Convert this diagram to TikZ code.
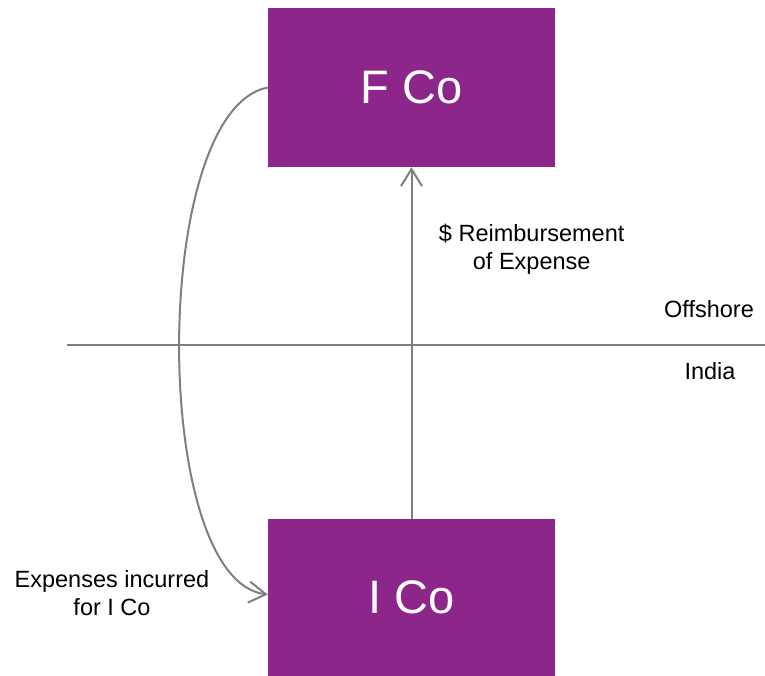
\documentclass[tikz,border=0pt]{standalone}
\usepackage{fontspec}
\setmainfont{Liberation Sans}
\usetikzlibrary{arrows.meta}
\definecolor{boxpurple}{HTML}{8D268B}
\definecolor{linegray}{HTML}{7F7F7F}
\begin{document}
\begin{tikzpicture}[x=1pt,y=-1pt,
  cobox/.style={fill=boxpurple,draw=none,minimum width=287pt,inner sep=0pt,text=white,font=\fontsize{47}{50}\selectfont},
  lbl/.style={align=center,inner sep=0pt,font=\fontsize{23.5}{28}\selectfont},
  conn/.style={draw=linegray,line width=2pt,-{Straight Barb[length=17pt,width=21pt]}}]
\useasboundingbox (0,0) rectangle (765,676);
\node[cobox,minimum height=159pt] (F) at (411.5,87.5) {F Co};
\node[cobox,minimum height=157pt] (I) at (411.5,597.5) {I Co};
\coordinate (hl) at (67,345);
\coordinate (hr) at (765,345);
\draw[draw=linegray,line width=1.5pt] (hl) -- (hr);
\draw[conn] (I.north) -- (F.south);
\draw[conn] (F.west) .. controls (150,110) and (150,580) .. ([yshift=3pt]I.west);
\node[lbl] (reimb) at (531.7,249) {\$ Reimbursement\\of Expense};
\node[lbl] (off) at (709,309) {Offshore};
\node[lbl] (ind) at (710,371) {India};
\node[lbl] (exp) at (112,593) {Expenses incurred\\for I Co};
\end{tikzpicture}
\end{document}
